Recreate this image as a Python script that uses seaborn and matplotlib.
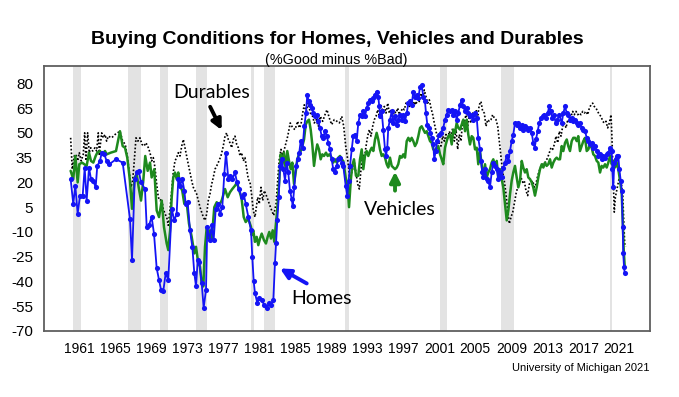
import numpy as np
import pandas as pd
import matplotlib
matplotlib.use("Agg")
import matplotlib.pyplot as plt
import seaborn as sns

# ---------------- data ----------------
homes_year = [1960.04,1960.33,1960.56,1960.82,1961.08,1961.38,1961.60,1961.82,1962.08,1962.30,1962.56,1962.82,
 1963.00,1963.30,1963.49,1963.78,1964.04,1964.33,1965.08,1965.82,1966.63,1966.86,1967.16,1967.38,1967.60,1967.86,
 1968.30,1968.49,1968.74,1969.04,1969.30,1969.60,1969.86,1970.08,1970.33,1970.60,1970.89,1971.27,1971.56,1971.82,
 1972.00,1972.19,1972.44,1972.67,1972.82,1973.04,1973.30,1973.56,1973.78,1973.97,1974.16,1974.33,1974.60,1974.82,
 1975.08,1975.22,1975.52,1975.71,1975.93,1976.16,1976.38,1976.63,1976.89,1977.11,1977.30,1977.56,1977.78,1978.00,
 1978.30,1978.52,1978.74,1979.04,1979.27,1979.49,1979.78,1980.08,1980.22,1980.38,1980.52,1980.78,1981.00,1981.27,
 1981.52,1981.82,1982.11,1982.33,1982.56,1982.74,1982.86,1983.00,1983.16,1983.30,1983.49,1983.67,1983.86,1984.04,
 1984.22,1984.41,1984.60,1984.71,1984.89,1985.08,1985.27,1985.44,1985.60,1985.82,1986.00,1986.19,1986.33,1986.49,
 1986.63,1986.82,1987.00,1987.22,1987.38,1987.56,1987.74,1987.93,1988.11,1988.30,1988.49,1988.67,1988.86,1989.04,
 1989.22,1989.41,1989.60,1989.78,1989.97,1990.16,1990.33,1990.60,1990.78,1990.93,1991.08,1991.27,1991.44,1991.63,
 1991.82,1992.00,1992.19,1992.38,1992.56,1992.74,1992.93,1993.11,1993.30,1993.49,1993.67,1993.86,1994.04,1994.22,
 1994.33,1994.44,1994.60,1994.78,1994.97,1995.08,1995.22,1995.33,1995.52,1995.71,1995.89,1996.08,1996.27,1996.44,
 1996.63,1996.82,1997.00,1997.19,1997.38,1997.56,1997.74,1997.93,1998.11,1998.30,1998.49,1998.67,1998.86,1999.04,
 1999.22,1999.41,1999.52,1999.67,1999.86,2000.00,2000.16,2000.33,2000.44,2000.60,2000.78,2000.97,2001.19,2001.44,
 2001.63,2001.82,2002.00,2002.19,2002.38,2002.56,2002.74,2002.93,2003.11,2003.30,2003.49,2003.67,2003.86,2004.04,
 2004.22,2004.41,2004.60,2004.78,2004.97,2005.16,2005.33,2005.52,2005.63,2005.78,2005.89,2006.08,2006.27,2006.44,
 2006.63,2006.82,2007.00,2007.19,2007.38,2007.56,2007.74,2007.93,2008.11,2008.30,2008.49,2008.67,2008.86,2009.04,
 2009.22,2009.41,2009.60,2009.78,2009.97,2010.16,2010.33,2010.52,2010.71,2010.89,2011.08,2011.27,2011.44,2011.60,
 2011.74,2011.93,2012.11,2012.30,2012.49,2012.67,2012.86,2013.04,2013.22,2013.38,2013.56,2013.74,2013.93,2014.11,
 2014.33,2014.60,2014.78,2014.97,2015.16,2015.33,2015.52,2015.71,2015.89,2016.08,2016.27,2016.44,2016.63,2016.82,
 2017.00,2017.19,2017.38,2017.56,2017.74,2017.93,2018.11,2018.30,2018.49,2018.67,2018.86,2019.04,2019.22,2019.41,
 2019.60,2019.78,2019.97,2020.16,2020.22,2020.33,2020.44,2020.60,2020.74,2020.89,2021.00,2021.16,2021.27,2021.38,
 2021.44,2021.52,2021.60]
homes_val = [22,7,18,1,12,12,29,9,29,22,21,17,
 30,33,38,37,33,31,34,32,-2,-27,22,26,27,20,
 16,-7,-6,-1,-11,-32,-39,-45,-46,-35,-39,4,-3,1,
 22,18,22,15,7,8,-9,-19,-35,-43,-27,-28,-41,-56,
 -45,-7,-15,-6,-15,4,7,1,5,25,38,22,24,22,
 26,20,16,11,13,7,-1,-9,-25,-40,-47,-53,-50,-51,
 -54,-56,-53,-54,-51,-29,-17,-3,11,30,34,28,21,32,
 26,15,10,6,17,30,34,38,45,41,54,62,73,69,
 67,65,62,60,61,57,53,48,47,51,48,44,40,34,
 28,26,30,34,35,32,30,18,12,21,30,40,48,49,
 45,56,61,60,63,60,65,68,70,69,71,73,75,72,
 66,60,63,52,40,36,41,53,58,63,56,60,55,58,
 61,58,61,57,62,68,69,67,75,72,73,71,78,79,
 72,69,62,55,53,50,47,43,34,39,45,49,50,53,
 58,61,64,63,64,61,63,58,62,67,70,66,63,65,
 62,60,61,58,62,59,47,40,33,26,23,28,22,21,
 17,26,32,30,28,22,26,23,29,32,36,33,39,45,
 49,56,55,56,53,55,52,54,53,52,53,50,44,41,
 46,51,56,59,60,61,59,62,66,63,59,61,56,58,
 61,56,62,66,62,61,58,59,57,58,56,55,56,53,
 52,51,47,45,43,44,41,42,39,36,37,34,36,35,
 37,38,41,39,28,17,32,34,36,36,28,21,15,-7,
 -23,-31,-35]

vehicles_year = [1960.04,1960.33,1960.56,1960.82,1961.00,1961.30,1961.82,1962.08,1962.30,1962.56,1962.82,1963.00,
 1963.30,1963.56,1963.86,1964.04,1964.49,1965.08,1965.52,1965.82,1966.08,1966.33,1966.63,1966.86,1967.16,1967.38,
 1967.60,1967.86,1968.11,1968.33,1968.60,1968.86,1969.04,1969.33,1969.60,1969.86,1970.16,1970.41,1970.71,1970.89,
 1971.08,1971.27,1971.44,1971.63,1971.82,1972.00,1972.19,1972.44,1972.67,1972.93,1973.19,1973.49,1973.78,1973.97,
 1974.22,1974.41,1974.60,1974.78,1974.97,1975.16,1975.33,1975.52,1975.71,1976.00,1976.27,1976.52,1976.82,1977.19,
 1977.49,1977.74,1978.00,1978.30,1978.52,1978.78,1979.04,1979.27,1979.49,1979.78,1980.08,1980.16,1980.33,1980.52,
 1980.71,1980.89,1981.08,1981.27,1981.52,1981.74,1981.93,1982.11,1982.30,1982.49,1982.67,1982.86,1983.04,1983.22,
 1983.38,1983.56,1983.74,1983.93,1984.11,1984.30,1984.49,1984.67,1984.86,1985.04,1985.22,1985.41,1985.60,1985.78,
 1985.97,1986.16,1986.33,1986.52,1986.71,1986.89,1987.08,1987.27,1987.44,1987.63,1987.82,1988.00,1988.19,1988.41,
 1988.60,1988.78,1989.04,1989.22,1989.41,1989.60,1989.78,1989.97,1990.16,1990.33,1990.60,1990.82,1990.97,1991.16,
 1991.33,1991.52,1991.74,1992.00,1992.19,1992.38,1992.56,1992.74,1992.93,1993.11,1993.30,1993.49,1993.67,1993.86,
 1994.04,1994.22,1994.41,1994.60,1994.78,1994.97,1995.16,1995.33,1995.52,1995.71,1995.89,1996.08,1996.27,1996.44,
 1996.63,1996.82,1997.00,1997.19,1997.38,1997.56,1997.74,1997.93,1998.11,1998.30,1998.49,1998.67,1998.86,1999.04,
 1999.22,1999.41,1999.60,1999.78,1999.97,2000.16,2000.33,2000.52,2000.71,2000.89,2001.08,2001.27,2001.44,2001.63,
 2001.82,2002.00,2002.19,2002.38,2002.56,2002.74,2002.93,2003.11,2003.30,2003.49,2003.67,2003.86,2004.04,2004.22,
 2004.41,2004.60,2004.78,2004.97,2005.16,2005.33,2005.52,2005.71,2005.89,2006.08,2006.27,2006.44,2006.63,2006.82,
 2007.00,2007.19,2007.38,2007.56,2007.74,2007.93,2008.11,2008.30,2008.49,2008.67,2008.86,2009.04,2009.22,2009.41,
 2009.60,2009.78,2009.97,2010.16,2010.33,2010.52,2010.71,2010.89,2011.08,2011.27,2011.44,2011.63,2011.82,2012.00,
 2012.19,2012.38,2012.56,2012.74,2012.93,2013.11,2013.30,2013.49,2013.67,2013.86,2014.04,2014.22,2014.41,2014.60,
 2014.78,2014.97,2015.16,2015.33,2015.52,2015.71,2015.89,2016.08,2016.27,2016.44,2016.63,2016.82,2017.00,2017.19,
 2017.38,2017.56,2017.74,2017.93,2018.11,2018.30,2018.49,2018.67,2018.86,2019.04,2019.22,2019.41,2019.60,2019.78,
 2019.97,2020.16,2020.33,2020.52,2020.71,2020.89,2021.08,2021.27,2021.38,2021.49,2021.60]
vehicles_val = [27,22,36,20,31,32,30,38,33,32,36,38,
 39,37,39,37,38,39,51,42,41,35,21,4,23,25,
 17,9,21,36,27,32,23,28,3,-1,9,-7,-17,-21,
 -9,11,23,26,22,26,18,15,7,8,-5,-13,-23,-19,
 -29,-31,-41,-43,-19,-7,-14,-9,-15,5,8,6,9,16,
 11,14,16,18,20,15,10,-1,-4,-2,-7,-12,-9,-16,
 -13,-18,-14,-11,-15,-17,-13,-10,-14,-9,-16,-4,7,21,
 37,31,38,28,39,33,28,32,19,26,34,37,39,42,
 46,55,57,58,52,43,30,38,43,40,34,37,36,38,
 36,37,35,32,34,32,35,36,34,33,23,17,5,21,
 30,34,24,24,34,40,28,36,39,36,39,41,39,46,
 50,46,40,36,37,35,31,29,35,30,29,28,29,31,
 36,35,37,35,45,47,45,47,45,42,44,48,53,54,
 52,50,51,48,45,44,40,39,41,42,37,34,31,41,
 45,48,49,43,52,50,56,53,52,55,58,51,58,49,
 43,48,47,40,41,31,39,31,23,31,23,26,28,32,
 34,30,33,22,28,22,17,7,-3,3,13,21,26,30,
 23,17,21,33,29,26,28,23,22,20,17,12,17,23,
 28,31,29,32,30,31,34,29,32,34,35,34,34,42,
 39,44,46,42,39,45,47,47,45,48,39,42,45,47,
 39,40,43,41,37,36,33,32,26,30,29,31,29,32,
 36,31,33,29,32,28,21,13,-3,-21,-31]

durables_year = [1960.04,1960.22,1960.44,1960.63,1960.82,1961.00,1961.22,1961.44,1961.60,1961.74,1961.93,1962.11,
 1962.27,1962.49,1962.74,1962.93,1963.11,1963.22,1963.49,1963.67,1963.86,1964.04,1964.22,1964.60,1964.97,1965.52,
 1965.82,1966.11,1966.33,1966.56,1966.74,1966.93,1967.11,1967.30,1967.52,1967.74,1967.97,1968.19,1968.41,1968.67,
 1968.86,1969.04,1969.22,1969.41,1969.60,1969.78,1969.97,1970.16,1970.33,1970.52,1970.71,1970.89,1971.08,1971.27,
 1971.44,1971.63,1971.82,1972.00,1972.19,1972.38,1972.56,1972.74,1972.93,1973.11,1973.30,1973.49,1973.67,1973.86,
 1974.04,1974.22,1974.41,1974.60,1974.78,1974.97,1975.16,1975.33,1975.52,1975.71,1975.89,1976.08,1976.27,1976.44,
 1976.74,1977.00,1977.19,1977.38,1977.56,1977.74,1977.93,1978.11,1978.30,1978.49,1978.67,1978.86,1979.04,1979.22,
 1979.41,1979.60,1979.78,1979.97,1980.16,1980.33,1980.52,1980.82,1981.00,1981.19,1981.38,1981.56,1981.86,1982.11,
 1982.38,1982.60,1982.86,1983.04,1983.22,1983.41,1983.60,1983.78,1984.16,1984.44,1984.71,1984.97,1985.27,1985.44,
 1985.63,1985.82,1986.00,1986.22,1986.44,1986.67,1986.93,1987.11,1987.33,1987.56,1987.78,1988.04,1988.30,1988.52,
 1988.78,1989.04,1989.33,1989.63,1989.89,1990.16,1990.38,1990.60,1990.82,1991.04,1991.27,1991.56,1991.74,1991.93,
 1992.11,1992.30,1992.49,1992.67,1992.86,1993.04,1993.22,1993.41,1993.60,1993.78,1993.97,1994.16,1994.33,1994.52,
 1994.71,1994.89,1995.08,1995.27,1995.44,1995.63,1995.82,1996.00,1996.19,1996.38,1996.56,1996.74,1996.93,1997.11,
 1997.30,1997.49,1997.67,1997.86,1998.04,1998.22,1998.41,1998.60,1998.78,1998.97,1999.16,1999.33,1999.52,1999.71,
 1999.89,2000.08,2000.27,2000.44,2000.63,2000.82,2001.00,2001.19,2001.38,2001.56,2001.74,2001.93,2002.11,2002.30,
 2002.49,2002.67,2002.86,2003.04,2003.22,2003.41,2003.60,2003.78,2003.97,2004.16,2004.33,2004.52,2004.71,2004.89,
 2005.08,2005.27,2005.44,2005.63,2005.82,2006.00,2006.19,2006.38,2006.56,2006.74,2006.93,2007.11,2007.30,2007.49,
 2007.67,2007.86,2008.04,2008.22,2008.41,2008.60,2008.78,2008.97,2009.16,2009.33,2009.52,2009.71,2009.89,2010.08,
 2010.27,2010.44,2010.63,2010.82,2011.00,2011.19,2011.38,2011.56,2011.74,2011.93,2012.11,2012.30,2012.49,2012.67,
 2012.86,2013.04,2013.22,2013.41,2013.60,2013.78,2013.97,2014.16,2014.33,2014.52,2014.71,2014.89,2015.08,2015.27,
 2015.44,2015.63,2015.82,2016.00,2016.19,2016.38,2016.56,2016.74,2016.93,2017.11,2017.30,2017.49,2017.67,2017.86,
 2018.04,2018.22,2018.41,2018.60,2018.78,2018.97,2019.16,2019.33,2019.52,2019.71,2019.89,2020.08,2020.19,2020.33,
 2020.44,2020.56,2020.71,2020.86,2021.00,2021.19,2021.38,2021.49,2021.60,2021.71]
durables_val = [47,28,36,37,33,38,33,37,50,33,50,38,
 41,39,41,39,50,37,50,47,49,45,48,47,49,51,
 45,43,36,26,17,21,33,47,45,47,43,42,44,41,
 38,33,35,29,19,11,9,10,4,1,-1,-6,4,15,
 26,33,35,38,36,42,46,41,36,31,26,21,17,15,
 13,9,5,2,-1,-3,1,9,13,19,23,28,30,32,
 36,42,48,50,46,44,41,46,48,43,41,36,38,33,
 35,28,22,20,12,3,-1,11,7,17,9,15,11,7,
 3,0,7,21,34,40,36,40,48,56,53,52,57,53,
 55,62,67,63,68,62,60,56,58,54,60,57,61,64,
 59,55,58,57,56,60,54,42,34,23,26,32,26,19,
 16,28,37,34,42,48,52,48,54,58,60,64,60,67,
 63,66,62,68,62,64,60,63,62,65,61,63,65,64,
 68,69,66,69,66,69,67,72,69,74,71,76,72,68,
 70,65,61,56,51,47,43,42,48,45,49,46,51,48,
 53,45,52,40,49,45,58,55,62,54,60,56,62,58,
 64,60,67,69,63,62,54,58,57,58,61,59,58,54,
 45,36,26,21,13,3,-5,-1,2,7,13,17,21,23,
 20,21,15,12,19,20,21,17,19,24,27,30,31,31,
 33,35,38,41,40,43,48,44,51,48,54,56,53,58,
 56,60,63,61,63,61,62,61,63,62,63,61,65,67,
 68,66,65,63,61,60,57,56,57,53,56,61,46,21,
 2,11,15,19,23,21,13,-3,-17,-19]

recession_start = [1960.33, 1966.44, 1969.97, 1973.93, 1980.04, 1981.52, 1990.52, 2001.08, 2007.82, 2019.97]
recession_end   = [1961.16, 1967.82, 1970.82, 1975.16, 1980.44, 1982.74, 1991.00, 2001.82, 2009.33, 2020.22]

x_ticks = [1961, 1965, 1969, 1973, 1977, 1981, 1985, 1989, 1993, 1997, 2001, 2005, 2009, 2013, 2017, 2021]
y_ticks = [80, 65, 50, 35, 20, 5, -10, -25, -40, -55, -70]

title = "Buying Conditions for Homes, Vehicles and Durables"
subtitle = "(%Good minus %Bad)"
footer = "University of Michigan 2021"

# ---------------- styling ----------------
sns.set_style("white")
plt.rcParams['font.family'] = ['Liberation Sans', 'DejaVu Sans']
plt.rcParams['axes.unicode_minus'] = False
plt.rcParams['text.color'] = 'black'
plt.rcParams['xtick.color'] = 'black'
plt.rcParams['ytick.color'] = 'black'

BLUE = "#1414f5"
GREEN = "#1e8a1e"
FRAME = "#5f5f5f"

fig = plt.figure(figsize=(6.79, 3.97), dpi=100)
ax = fig.add_axes([44/679, 1-331/397, (650-44)/679, (331-66)/397])

for s, e in zip(recession_start, recession_end):
    ax.axvspan(s, e, color="#e3e3e3", lw=0, zorder=0)

dur = pd.DataFrame({"year": durables_year, "value": durables_val})
veh = pd.DataFrame({"year": vehicles_year, "value": vehicles_val})
hom = pd.DataFrame({"year": homes_year, "value": homes_val})

sns.lineplot(data=dur, x="year", y="value", ax=ax, color="black", lw=1.2,
             linestyle=(0, (1, 1.2)), estimator=None, sort=False, zorder=2)
sns.lineplot(data=veh, x="year", y="value", ax=ax, color=GREEN, lw=1.8,
             estimator=None, sort=False, zorder=3)
sns.lineplot(data=hom, x="year", y="value", ax=ax, color=BLUE, lw=1.3,
             marker="o", markersize=3.7, markeredgewidth=0, markerfacecolor=BLUE,
             estimator=None, sort=False, zorder=4)

ax.set_xlim(1957.08, 2024.41)
ax.set_ylim(-70, 90.5)
ax.set_xticks(x_ticks)
ax.set_xticklabels([str(t) for t in x_ticks])
ax.set_yticks(y_ticks)
ax.set_yticklabels([str(t) for t in y_ticks])
ax.set_xlabel("")
ax.set_ylabel("")
ax.tick_params(axis="x", direction="out", length=3, width=1, color=FRAME, labelcolor="black", pad=5, labelsize=10)
ax.tick_params(axis="y", direction="out", length=3, width=1, color=FRAME, labelcolor="black", pad=5, labelsize=11)
for sp in ax.spines.values():
    sp.set_visible(True)
    sp.set_color(FRAME)
    sp.set_linewidth(1.3)

# annotations
ann_font = ['Lato', 'DejaVu Sans']
ax.text(1975.74, 74.7, "Durables", fontsize=14, family=ann_font, ha="center", va="center", color="black", zorder=6)
ax.annotate("", xy=(1976.82, 51.7), xytext=(1975.54, 65.8),
            arrowprops=dict(arrowstyle="-|>", color="black", lw=2.8, mutation_scale=15,
                            shrinkA=0, shrinkB=0), zorder=6)
ax.text(1996.6, 3.8, "Vehicles", fontsize=14, family=ann_font, ha="center", va="center", color="black", zorder=6)
ax.annotate("", xy=(1996.08, 26.5), xytext=(1996.08, 15.0),
            arrowprops=dict(arrowstyle="-|>", color=GREEN, lw=2.8, mutation_scale=15,
                            shrinkA=0, shrinkB=0), zorder=6)
ax.text(1987.86, -50.1, "Homes", fontsize=14, family=ann_font, ha="center", va="center", color="black", zorder=6)
ax.annotate("", xy=(1983.3, -32.1), xytext=(1986.27, -41.2),
            arrowprops=dict(arrowstyle="-|>", color=BLUE, lw=2.8, mutation_scale=15,
                            shrinkA=0, shrinkB=0), zorder=6)

fig.text(337/679, 1-39.5/397, title, ha="center", va="center", fontsize=14, fontweight="bold", color="black")
fig.text(336/679, 1-60/397, subtitle, ha="center", va="center", fontsize=10.4, color="black")
fig.text(650/679, 1-368/397, footer, ha="right", va="center", fontsize=8, color="black")

fig.savefig("out.png", dpi=100)
